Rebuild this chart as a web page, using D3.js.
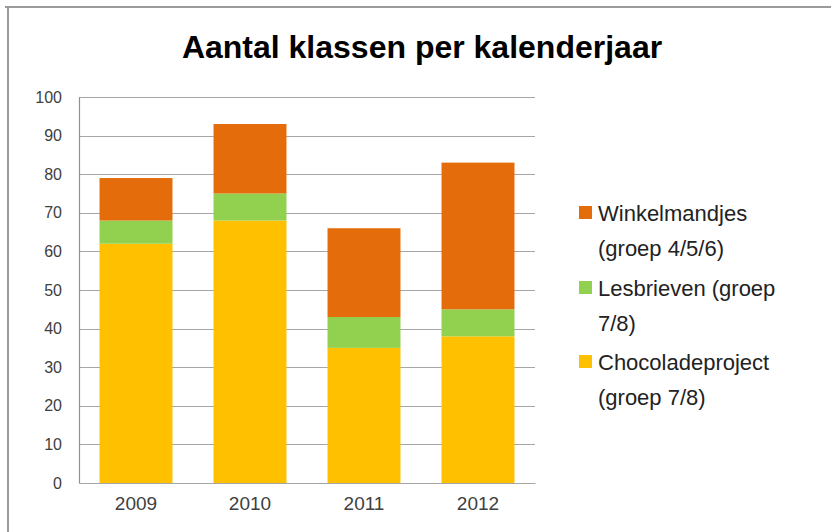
<!DOCTYPE html>
<html>
<head>
<meta charset="utf-8">
<script src="https://cdn.jsdelivr.net/npm/d3@7"></script>
<style>
  html, body { margin: 0; padding: 0; background: #fff; }
  svg { display: block; font-family: "Liberation Sans", Arial, sans-serif; }
</style>
</head>
<body>
<svg id="chart" width="831" height="532"></svg>
<script>
const title = "Aantal klassen per kalenderjaar";
const categories = ["2009", "2010", "2011", "2012"];
const chocoladeproject = [62, 68, 35, 38];
const lesbrieven = [6, 7, 8, 7];
const winkelmandjes = [11, 18, 23, 38];
const yTicks = [0, 10, 20, 30, 40, 50, 60, 70, 80, 90, 100];
const seriesNames = ["Chocoladeproject", "Lesbrieven", "Winkelmandjes"];
const seriesColors = ["#FFC000", "#92D050", "#E46C0A"];
const legendLabels = [
  ["Winkelmandjes", "(groep 4/5/6)"],
  ["Lesbrieven (groep", "7/8)"],
  ["Chocoladeproject", "(groep 7/8)"]
];
const legendColors = ["#E46C0A", "#92D050", "#FFC000"];

const rows = categories.map((c, i) => ({
  year: c,
  Chocoladeproject: chocoladeproject[i],
  Lesbrieven: lesbrieven[i],
  Winkelmandjes: winkelmandjes[i]
}));

const svg = d3.select("#chart");
const W = 831, H = 532;
const plot = { left: 79, right: 535, top: 97, bottom: 483 };

// frame
svg.append("line").attr("x1", 5).attr("x2", W).attr("y1", 7).attr("y2", 7)
  .attr("stroke", "#9a9a9a").attr("stroke-width", 2);
svg.append("line").attr("x1", 8).attr("x2", 8).attr("y1", 6).attr("y2", H)
  .attr("stroke", "#9a9a9a").attr("stroke-width", 2);

// title
svg.append("text").attr("x", 422).attr("y", 58).attr("text-anchor", "middle")
  .attr("font-size", 32).attr("font-weight", "bold").attr("fill", "#000")
  .text(title);

const x = d3.scaleBand().domain(categories).range([plot.left, plot.right])
  .paddingInner(0.36).paddingOuter(0.18);
const y = d3.scaleLinear().domain([0, 100]).range([plot.bottom, plot.top]);

// gridlines
svg.append("g").selectAll("line").data(yTicks.filter(d => d > 0)).join("line")
  .attr("x1", plot.left).attr("x2", plot.right)
  .attr("y1", d => Math.round(y(d)) + 0.5).attr("y2", d => Math.round(y(d)) + 0.5)
  .attr("stroke", "#a6a6a6").attr("stroke-width", 1.2);

// y axis
const yAxis = d3.axisLeft(y).tickValues(yTicks).tickSize(0).tickPadding(17);
const gy = svg.append("g").attr("transform", `translate(${plot.left},0)`).call(yAxis);
gy.select(".domain").attr("stroke", "#8e8eaa").attr("stroke-width", 1.2);
gy.selectAll("text").attr("font-size", 16).attr("fill", "#404040")
  .attr("font-family", "Liberation Sans, Arial, sans-serif");

// stacked bars
const stack = d3.stack().keys(seriesNames);
const stacked = stack(rows);
const color = d3.scaleOrdinal().domain(seriesNames).range(seriesColors);
svg.append("g").selectAll("g").data(stacked).join("g")
  .attr("fill", d => color(d.key))
  .selectAll("rect").data(d => d).join("rect")
  .attr("x", d => x(d.data.year))
  .attr("width", x.bandwidth())
  .attr("y", d => y(d[1]))
  .attr("height", d => y(d[0]) - y(d[1]));

// x axis
const xAxis = d3.axisBottom(x).tickSize(0).tickPadding(14);
const gx = svg.append("g").attr("transform", `translate(0,${plot.bottom})`).call(xAxis);
gx.select(".domain").attr("stroke", "#a6a6a6").attr("stroke-width", 1.2);
gx.selectAll("text").attr("font-size", 19).attr("fill", "#404040")
  .attr("font-family", "Liberation Sans, Arial, sans-serif");

// legend
const legendTop = [213, 288, 362];
const lg = svg.append("g");
legendLabels.forEach((lines, i) => {
  const cy = legendTop[i];
  lg.append("rect").attr("x", 579).attr("y", cy - 7).attr("width", 13).attr("height", 13)
    .attr("fill", legendColors[i]);
  lines.forEach((t, j) => {
    lg.append("text").attr("x", 598).attr("y", cy + 8 + j * 35)
      .attr("font-size", 22).attr("fill", "#222")
      .text(t);
  });
});
</script>
</body>
</html>
